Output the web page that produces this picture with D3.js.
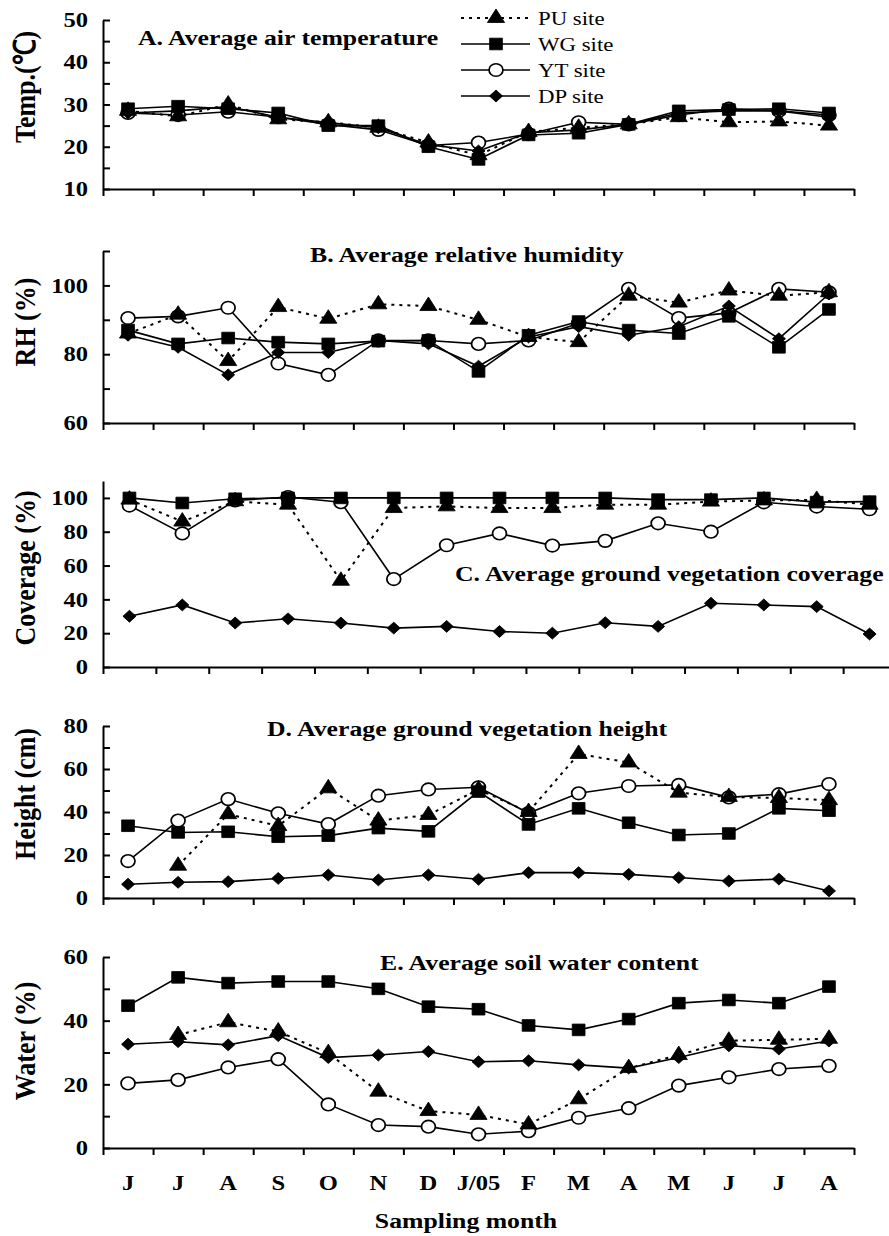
<!DOCTYPE html>
<html>
<head>
<meta charset="utf-8">
<script src="https://cdn.jsdelivr.net/npm/d3@7"></script>
<style>
  body { margin: 0; background: #fff; }
  svg { display: block; }
  text { font-family: "Liberation Serif", "Times New Roman", serif; fill: #000; }
</style>
</head>
<body>
<div id="chart"></div>
<script>
"use strict";

// ---------- data ----------
var months = ["J","J","A","S","O","N","D","J/05","F","M","A","M","J","J","A"];
var siteNames = ["PU site","WG site","YT site","DP site"];

// A. air temperature (C)
var tempPU = [28.5, 27.2, 30, 26.5, 25.8, 24.5, 21, 18, 23.5, 24.5, 25.3, 27, 25.8, 26, 25];
var tempWG = [29, 29.6, 29, 28, 25, 25, 20, 17, 22.8, 23.2, 25.3, 28.5, 28.8, 29, 28];
var tempYT = [28, 27.5, 28.3, 27, 25.3, 24, 20.3, 21, 23, 25.8, 25.3, 27.5, 29, 28.5, 27.5];
var tempDP = [28, 28.5, 29.5, 27, 25.7, 24.5, 20.5, 19, 23.3, 24, 25.3, 28, 28.5, 28.5, 27];

// B. relative humidity (%)
var rhPU = [86, 91.5, 78, 93.7, 90.3, 94.5, 94, 90, 85, 83.5, 97, 95, 98.5, 97, 98];
var rhWG = [87, 83, 84.7, 83.5, 83, 83.8, 84, 75, 85.5, 89.5, 87, 86, 91, 82, 93];
var rhYT = [90.5, 91, 93.5, 77.3, 74, 84, 84, 83, 84, 89, 99, 90.5, 92, 99, 98];
var rhDP = [85.5, 82, 74, 80.5, 80.5, 84, 83, 76.5, 85, 88, 85.5, 88, 94, 84.5, 97.5];

// C. vegetation coverage (%)
var covPU = [99, 86, 98, 96, 51, 94, 95, 94, 94, 96, 96, 97.8, 98.5, 98.8, 96];
var covWG = [100, 97, 99.5, 100, 100, 100, 100, 100, 100, 100, 99, 99, 100, 97.5, 97.8];
var covYT = [95.5, 79, 98.5, 100.5, 97.5, 52, 72, 79, 71.8, 74.6, 85, 80, 97.4, 94.9, 93.3];
var covDP = [30, 36.7, 26, 28.5, 26, 23, 24, 21, 20, 26.2, 24, 37.7, 36.7, 35.7, 19.5];

// D. vegetation height (cm)
var hgtPU = [null, 15, 39, 33.5, 51, 36, 38.6, 50.5, 40, 67, 63, 49, 47, 46.5, 45.5];
var hgtWG = [33.6, 30.5, 30.8, 28.5, 29, 32.5, 31, 49.5, 34.2, 41.7, 35, 29.3, 30, 41.7, 40.6];
var hgtYT = [17.2, 36, 46, 39.4, 34.4, 47.6, 50.5, 51.5, 39.5, 48.7, 52.1, 52.6, 46.8, 48.3, 53];
var hgtDP = [6.4, 7.3, 7.6, 9.1, 10.7, 8.4, 10.7, 8.7, 11.8, 11.8, 11, 9.5, 7.9, 8.8, 3.3];

// E. soil water content (%)
var watPU = [null, 35.5, 39.5, 36.6, 29.8, 17.7, 11.6, 10.4, 7.4, 15.3, 25.1, 29.2, 33.7, 34, 34.3];
var watWG = [44.7, 53.6, 51.8, 52.3, 52.3, 50, 44.4, 43.6, 38.5, 37.1, 40.5, 45.5, 46.5, 45.5, 50.7];
var watYT = [20.3, 21.4, 25.3, 27.9, 13.7, 7.2, 6.7, 4.3, 5.3, 9.5, 12.5, 19.6, 22.2, 24.8, 25.8];
var watDP = [32.6, 33.4, 32.4, 35.3, 28.4, 29.2, 30.3, 27.1, 27.4, 26.1, 25.1, 28.4, 32.1, 31.1, 33.6];

// ---------- layout ----------
var W = 889, H = 1236;
var SX = 1.17;        // the figure is a bit wider than tall in its glyphs
var MK = 1.1;         // marker horizontal stretch
var axisX = 103;

var panels = [
  { series: [tempPU, tempWG, tempYT, tempDP], domain: [10, 50], yr: [189, 20], xr: [103, 854],
    ticks: d3.range(10, 51, 5), labels: [10, 20, 30, 40, 50],
    title: "A. Average air temperature", tx: 138, ty: 45, ylab: "Temp.(\u2103)", ylabY: 87 },
  { series: [rhPU, rhWG, rhYT, rhDP], domain: [60, 110], yr: [423, 251], xr: [103, 854],
    ticks: d3.range(60, 111, 10), labels: [60, 80, 100],
    title: "B. Average relative humidity", tx: 310, ty: 262, ylab: "RH (%)", ylabY: 322 },
  { series: [covPU, covWG, covYT, covDP], domain: [0, 110], yr: [667, 481], xr: [103, 896],
    ticks: d3.range(0, 101, 20), labels: [0, 20, 40, 60, 80, 100],
    title: "C. Average ground vegetation coverage", tx: 455, ty: 581, ylab: "Coverage (%)", ylabY: 568 },
  { series: [hgtPU, hgtWG, hgtYT, hgtDP], domain: [0, 80], yr: [898, 726], xr: [103, 854],
    ticks: d3.range(0, 81, 10), labels: [0, 20, 40, 60, 80],
    title: "D. Average ground vegetation height", tx: 267, ty: 736, ylab: "Height (cm)", ylabY: 794 },
  { series: [watPU, watWG, watYT, watDP], domain: [0, 60], yr: [1148, 957], xr: [103, 854],
    ticks: d3.range(0, 61, 10), labels: [0, 20, 40, 60],
    title: "E. Average soil water content", tx: 380, ty: 970, ylab: "Water (%)", ylabY: 1041 }
];

// site styles: index into series arrays
var styles = [
  { name: siteNames[0], dash: "3,5", symbol: d3.symbolTriangle, size: 105, fill: "#000" },
  { name: siteNames[1], dash: null, symbol: d3.symbolSquare, size: 135, fill: "#000" },
  { name: siteNames[2], dash: null, symbol: d3.symbolCircle, size: 125, fill: "#fff" },
  { name: siteNames[3], dash: null, symbol: d3.symbolSquare, size: 70, fill: "#000", rot: 45 }
];
var drawOrder = [2, 3, 1, 0];

var svg = d3.select("#chart").append("svg")
  .attr("width", W).attr("height", H);

function markerTransform(st, x, y) {
  return "translate(" + x + "," + y + ") scale(" + MK + ",1)" + (st.rot ? " rotate(" + st.rot + ")" : "");
}

function drawMarker(g, st, x, y) {
  g.append("path")
    .attr("d", d3.symbol().type(st.symbol).size(st.size)())
    .attr("transform", markerTransform(st, x, y))
    .attr("fill", st.fill)
    .attr("stroke", "#000")
    .attr("stroke-width", st.fill === "#fff" ? 1.6 : 0.8);
}

panels.forEach(function(p, pi) {
  var g = svg.append("g");
  var x = d3.scaleLinear().domain([0, months.length]).range(p.xr);
  var y = d3.scaleLinear().domain(p.domain).range(p.yr);

  // y axis, ticks point inward
  var yAxis = g.append("g")
    .attr("transform", "translate(" + axisX + ",0)")
    .call(d3.axisLeft(y).tickValues(p.ticks).tickSizeInner(-7).tickSizeOuter(0).tickPadding(15)
      .tickFormat(function(d) { return p.labels.indexOf(d) >= 0 ? d : ""; }));
  yAxis.select(".domain").attr("stroke-width", 2);
  yAxis.selectAll(".tick line").attr("stroke-width", 2);
  yAxis.selectAll(".tick text")
    .attr("x", -15 / SX)
    .attr("transform", "scale(" + SX + ",1)")
    .style("font-family", "'Liberation Serif', serif")
    .style("font-size", "21px")
    .style("font-weight", "bold")
    .attr("fill", "#000");

  // x axis, ticks at month boundaries
  var xAxis = g.append("g")
    .attr("transform", "translate(0," + p.yr[0] + ")")
    .call(d3.axisBottom(x).tickValues(d3.range(0, months.length + 1)).tickSizeInner(7).tickSizeOuter(0).tickFormat(""));
  xAxis.select(".domain").attr("stroke-width", 2);
  xAxis.selectAll(".tick line").attr("stroke-width", 2);

  // panel title
  g.append("text")
    .attr("transform", "translate(" + p.tx + "," + p.ty + ") scale(" + SX + ",1)")
    .style("font-size", "22px").style("font-weight", "bold")
    .text(p.title);

  // y axis title
  g.append("text")
    .attr("transform", "translate(35," + p.ylabY + ") rotate(-90) scale(1," + SX + ")")
    .attr("text-anchor", "middle")
    .style("font-size", "26px").style("font-weight", "bold")
    .text(p.ylab);

  // series
  var line = d3.line()
    .defined(function(d) { return d != null; })
    .x(function(d, i) { return x(i + 0.5); })
    .y(function(d) { return y(d); });

  drawOrder.forEach(function(si) {
    var st = styles[si];
    var vals = p.series[si];
    var sg = g.append("g");
    sg.append("path")
      .attr("d", line(vals))
      .attr("fill", "none")
      .attr("stroke", "#000")
      .attr("stroke-width", st.dash ? 2 : 1.6)
      .attr("stroke-dasharray", st.dash);
    vals.forEach(function(v, i) {
      if (v == null) return;
      drawMarker(sg, st, x(i + 0.5), y(v));
    });
  });

  // month labels only under the last panel
  if (pi === panels.length - 1) {
    g.selectAll(".month").data(months).enter().append("text")
      .attr("class", "month")
      .attr("transform", function(d, i) { return "translate(" + x(i + 0.5) + ",1190) scale(" + SX + ",1)"; })
      .attr("text-anchor", "middle")
      .style("font-size", "21px").style("font-weight", "bold")
      .text(function(d) { return d; });
  }
});

// x axis title
svg.append("text")
  .attr("transform", "translate(466,1228) scale(" + SX + ",1)")
  .attr("text-anchor", "middle")
  .style("font-size", "22px").style("font-weight", "bold")
  .text("Sampling month");

// legend (top panel)
var legend = svg.append("g");
styles.forEach(function(st, i) {
  var ly = 18 + i * 26;
  legend.append("line")
    .attr("x1", 461).attr("x2", 530).attr("y1", ly).attr("y2", ly)
    .attr("stroke", "#000")
    .attr("stroke-width", st.dash ? 2 : 1.6)
    .attr("stroke-dasharray", st.dash);
  drawMarker(legend, st, 496, ly);
  legend.append("text")
    .attr("transform", "translate(538," + ly + ") scale(" + SX + ",1)")
    .attr("dy", "0.35em")
    .style("font-size", "19.5px")
    .text(st.name);
});
</script>
</body>
</html>
